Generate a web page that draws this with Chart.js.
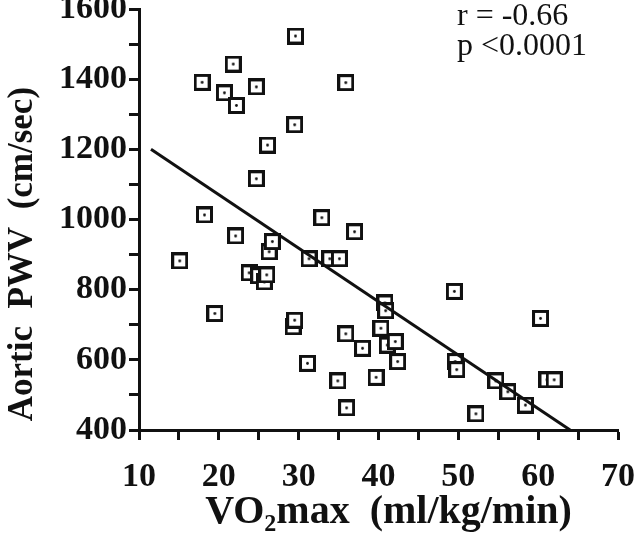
<!DOCTYPE html>
<html>
<head>
<meta charset="utf-8">
<script src="https://cdn.jsdelivr.net/npm/chart.js@4"></script>
<style>
  html, body { margin: 0; padding: 0; background: #fff; }
  #wrap { width: 640px; height: 535px; }
</style>
</head>
<body>
<div id="wrap"><canvas id="c" width="640" height="535"></canvas></div>
<script>
// ── data ────────────────────────────────────────────────────────────────────
const vo2max = [
  15.1, 17.9, 18.2, 19.5, 20.7, 21.8, 22.1, 22.2, 23.8, 24.7,
  24.7, 25.0, 25.7, 26.0, 26.1, 26.3, 26.7, 29.3, 29.5, 29.5,
  29.6, 31.1, 31.3, 32.9, 33.9, 34.9, 35.1, 35.9, 35.9, 36.0,
  37.0, 38.0, 39.7, 40.3, 40.8, 40.9, 41.1, 42.1, 42.4, 49.5,
  49.6, 49.8, 52.2, 54.7, 56.2, 58.4, 60.3, 61.1, 62.0
]
const pwv = [
  882, 1391, 1013, 732, 1361, 1443, 953, 1325, 848, 1378,
  1116, 840, 822, 842, 1212, 908, 937, 694, 713, 1270,
  1523, 590, 888, 1005, 888, 540, 888, 674, 1390, 463,
  965, 633, 550, 690, 762, 740, 642, 652, 595, 795,
  595, 572, 446, 540, 509, 471, 718, 543, 543
]
// regression line end points
const fitX = [11.5, 64]
const fitY = [1200, 400]

const stats = ["r = -0.66", "p <0.0001"]
const xTitle = "  VO\u2082max  (ml/kg/min)"
const yTitle = " Aortic  PWV  (cm/sec)"

// ── square marker with centre dot ───────────────────────────────────────────
const marker = document.createElement("canvas")
marker.width = 17
marker.height = 17
{
  const m = marker.getContext("2d")
  m.fillStyle = "#fff"
  m.fillRect(1.5, 1.5, 14, 14)
  m.strokeStyle = "#111"
  m.lineWidth = 3
  m.strokeRect(1.5, 1.5, 14, 14)
  m.fillStyle = "#111"
  m.beginPath()
  m.arc(8.5, 8.5, 1.4, 0, Math.PI * 2)
  m.fill()
}

const statsText = {
  id: "statsText",
  afterDraw(chart) {
    const ctx = chart.ctx
    ctx.save()
    ctx.fillStyle = "#111"
    ctx.font = "32px 'Liberation Serif'"
    ctx.textAlign = "left"
    ctx.textBaseline = "alphabetic"
    ctx.fillText(stats[0], 457, 25)
    ctx.fillText(stats[1], 457, 55)
    ctx.restore()
  }
}

const axisCommon = {
  border: { display: true, color: "#111", width: 3 },
  grid: { display: true, drawOnChartArea: false, drawTicks: true, tickLength: 10, tickWidth: 3, tickColor: "#111" }
}

new Chart(document.getElementById("c"), {
  type: "scatter",
  data: {
    datasets: [
      {
        type: "line",
        data: fitX.map((x, i) => ({ x, y: fitY[i] })),
        borderColor: "#111",
        borderWidth: 3,
        pointRadius: 0,
        fill: false,
        order: 0
      },
      {
        data: vo2max.map((x, i) => ({ x, y: pwv[i] })),
        pointStyle: marker,
        pointRadius: 8,
        order: 1
      }
    ]
  },
  options: {
    responsive: false,
    animation: false,
    layout: { padding: { top: 5, right: 22, left: 0, bottom: 0 } },
    plugins: { legend: { display: false }, tooltip: { enabled: false } },
    scales: {
      x: {
        ...axisCommon,
        min: 10, max: 70,
        ticks: {
          stepSize: 5,
          color: "#111",
          padding: 17,
          maxRotation: 0,
          autoSkip: false,
          font: { family: "'Liberation Serif'", size: 34, weight: "bold" },
          callback: v => v % 10 === 0 ? String(v) : ""
        },
        title: {
          display: true,
          text: xTitle,
          color: "#111",
          font: { family: "'Liberation Serif'", size: 40, weight: "bold", lineHeight: 1 },
          padding: { top: 0, bottom: 2 }
        },
        afterFit(s) { s.height = 105; s.paddingLeft = 0; s.paddingRight = 0 }
      },
      y: {
        ...axisCommon,
        min: 400, max: 1600,
        ticks: {
          stepSize: 100,
          color: "#111",
          padding: 2,
          autoSkip: false,
          font: { family: "'Liberation Serif'", size: 34, weight: "bold" },
          callback: v => v % 200 === 0 ? String(v) : ""
        },
        title: {
          display: true,
          text: yTitle,
          align: "start",
          color: "#111",
          font: { family: "'Liberation Serif'", size: 35, weight: "bold", lineHeight: 1 },
          padding: { top: 5, bottom: 0 }
        },
        afterFit(s) { s.width = 139; s.paddingTop = 0; s.paddingBottom = 0 }
      }
    }
  },
  plugins: [statsText]
})
</script>
</body>
</html>
